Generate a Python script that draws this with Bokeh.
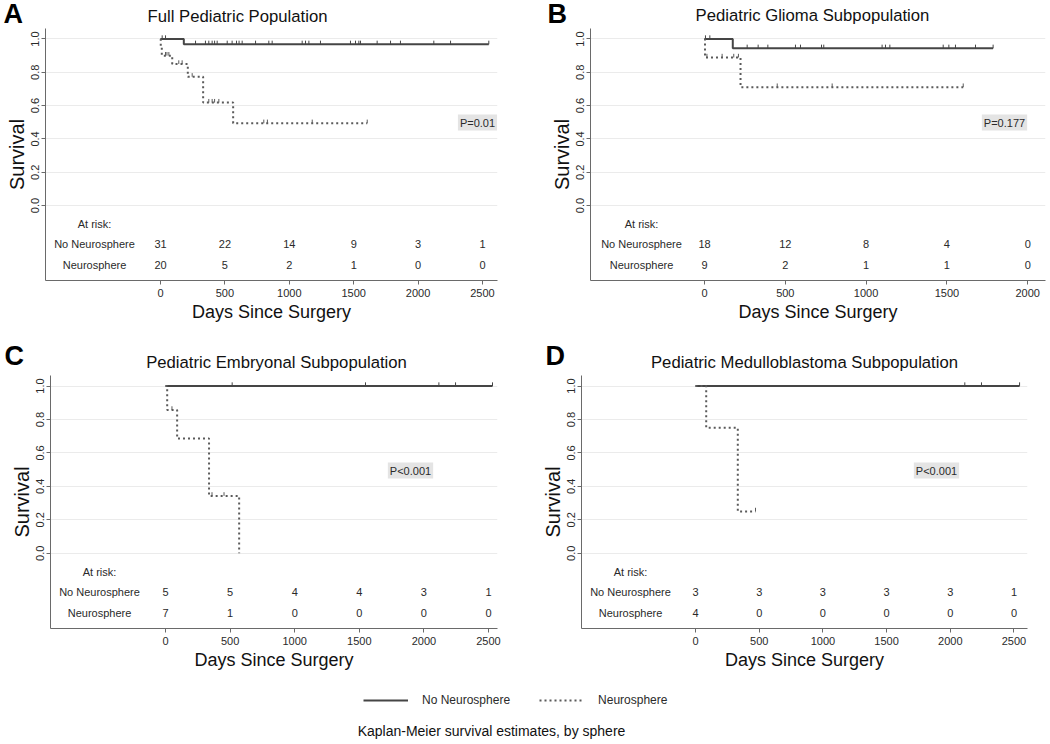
import numpy as np
from bokeh.plotting import figure
from bokeh.models import Range1d, Label, FixedTicker, PrintfTickFormatter, Legend, LegendItem
from bokeh.layouts import column, row
from bokeh.embed import file_html
from bokeh.resources import INLINE
from bokeh.core.properties import value

FONT = "Liberation Sans"

# ---------------- data ----------------
group_names = ["No Neurosphere", "Neurosphere"]

# Panel A: Full Pediatric Population
a_title = "Full Pediatric Population"
a_ticks = [0, 500, 1000, 1500, 2000, 2500]
a_no_t = [0, 181, 2549]
a_no_s = [1.0, 0.968, 0.968]
a_no_cens = [13, 39, 272, 349, 375, 401, 420, 440, 518, 556, 590, 610, 634, 738, 841, 867,
             1100, 1126, 1152, 1242, 1475, 1514, 1540, 1553, 1682, 1786, 1863, 2122, 2252, 2549]
a_ns_t = [0, 2, 10, 91, 212, 331, 564, 1605]
a_ns_s = [1.0, 0.95, 0.90, 0.85, 0.773, 0.618, 0.494, 0.494]
a_ns_cens = [39, 50, 65, 142, 168, 246, 375, 401, 420, 453, 802, 830, 1178, 1605]
a_risk_no = [31, 22, 14, 9, 3, 1]
a_risk_ns = [20, 5, 2, 1, 0, 0]
a_p = "P=0.01"

# Panel B: Pediatric Glioma Subpopulation
b_title = "Pediatric Glioma Subpopulation"
b_ticks = [0, 500, 1000, 1500, 2000]
b_no_t = [0, 175, 1786]
b_no_s = [1.0, 0.944, 0.944]
b_no_cens = [6, 33, 264, 332, 392, 563, 594, 724, 738, 1099, 1120, 1147, 1477,
             1512, 1553, 1677, 1786]
b_ns_t = [0, 3, 223, 1601]
b_ns_s = [1.0, 0.889, 0.711, 0.711]
b_ns_cens = [15, 109, 181, 210, 450, 790, 1601]
b_risk_no = [18, 12, 8, 4, 0]
b_risk_ns = [9, 2, 1, 1, 0]
b_p = "P=0.177"

# Panel C: Pediatric Embryonal Subpopulation
c_title = "Pediatric Embryonal Subpopulation"
c_ticks = [0, 500, 1000, 1500, 2000, 2500]
c_no_t = [0, 2531]
c_no_s = [1.0, 1.0]
c_no_cens = [516, 1548, 2116, 2245, 2531]
c_ns_t = [0, 13, 90, 337, 570]
c_ns_s = [1.0, 0.857, 0.686, 0.343, 0.0]
c_ns_cens = [50, 360, 453]
c_risk_no = [5, 5, 4, 4, 3, 1]
c_risk_ns = [7, 1, 0, 0, 0, 0]
c_p = "P<0.001"

# Panel D: Pediatric Medulloblastoma Subpopulation
d_title = "Pediatric Medulloblastoma Subpopulation"
d_ticks = [0, 500, 1000, 1500, 2000, 2500]
d_no_t = [0, 2544]
d_no_s = [1.0, 1.0]
d_no_cens = [2114, 2245, 2544]
d_ns_t = [0, 84, 332, 471]
d_ns_s = [1.0, 0.75, 0.25, 0.25]
d_ns_cens = [471]
d_risk_no = [3, 3, 3, 3, 3, 1]
d_risk_ns = [4, 0, 0, 0, 0, 0]
d_p = "P<0.001"

y_ticks = [0.0, 0.2, 0.4, 0.6, 0.8, 1.0]
caption = "Kaplan-Meier survival estimates, by sphere"

# ---------------- styling ----------------
SOLID_C = "#454545"
DOT_C = "#5a5a5a"
AX_C = "#6a6a6a"
TXT_C = "#2a2a2a"
Y0, Y1 = -0.45, 1.063


def surv_at(t, s, c):
    idx = np.searchsorted(np.asarray(t), np.asarray(c), side="right") - 1
    return np.asarray(s)[idx]


def blank_fig(width, height):
    """A figure whose data units are its own pixels (y measured downward)."""
    f = figure(width=width, height=height, x_range=Range1d(0, width),
               y_range=Range1d(height, 0), output_backend="svg", toolbar_location=None,
               x_axis_type=None, y_axis_type=None, min_border=0)
    f.outline_line_color = None
    f.grid.visible = False
    return f


def make_header(width, height, letter, lx, ly, title, tx, ty):
    h = blank_fig(width, height)
    h.add_layout(Label(x=lx, y=ly, text=letter, text_align="left", text_baseline="middle",
                       text_font=FONT, text_font_size="27px", text_font_style="bold",
                       text_color="#000000"))
    h.add_layout(Label(x=tx, y=ty, text=title, text_align="center", text_baseline="middle",
                       text_font=FONT, text_font_size="16.7px", text_color="#111111"))
    return h


def make_panel(ticks, no_t, no_s, no_c, ns_t, ns_s, ns_c, r_no, r_ns, ptxt,
               width, height, fig_x, fig_y, fl, fr, ft, fb, zero_px, dpp, p_pos, lab_px):
    xs = (fl - zero_px) * dpp
    xe = (fr - zero_px) * dpp
    p = figure(width=width, height=height, x_range=Range1d(xs, xe), y_range=Range1d(Y0, Y1),
               output_backend="svg", toolbar_location=None,
               min_border_left=fl - fig_x, min_border_right=fig_x + width - fr,
               min_border_top=ft - fig_y, min_border_bottom=fig_y + height - fb)
    p.outline_line_color = None
    p.xgrid.visible = False
    p.ygrid.grid_line_color = "#ebebeb"
    p.ygrid.grid_line_width = 1

    ppu = (fb - ft) / (Y1 - Y0)

    def px2x(xp):
        return (xp - zero_px) * dpp

    def px2y(yp):
        return Y1 - (yp - ft) / ppu

    p.xaxis.ticker = FixedTicker(ticks=ticks)
    p.yaxis.ticker = FixedTicker(ticks=y_ticks)
    p.yaxis.formatter = PrintfTickFormatter(format="%.1f")
    p.yaxis.major_label_orientation = "vertical"
    for ax in (p.xaxis[0], p.yaxis[0]):
        ax.axis_line_color = AX_C
        ax.major_tick_line_color = AX_C
        ax.minor_tick_line_color = None
        ax.major_tick_in = 0
        ax.major_tick_out = 4
        ax.major_label_text_font = FONT
        ax.major_label_text_font_size = "11px"
        ax.major_label_text_color = TXT_C
        ax.axis_label_text_font = FONT
        ax.axis_label_text_font_style = "normal"
        ax.axis_label_text_color = "#111111"
    p.xaxis.major_label_standoff = 4
    p.yaxis.major_label_standoff = 2
    p.xaxis.axis_label = "Days Since Surgery"
    p.xaxis.axis_label_text_font_size = "18px"
    p.xaxis.axis_label_standoff = 2
    p.yaxis.axis_label = "Survival"
    p.yaxis.axis_label_text_font_size = "20px"
    p.yaxis.axis_label_standoff = 1

    # survival curves
    p.step(no_t, no_s, mode="after", line_color=SOLID_C, line_width=2)
    p.step(ns_t, ns_s, mode="after", line_color=DOT_C, line_width=2, line_dash="2 3")
    # censoring marks
    cs = surv_at(no_t, no_s, no_c)
    p.segment(x0=no_c, y0=cs, x1=no_c, y1=cs + 0.022, line_color=SOLID_C, line_width=1)
    cs2 = surv_at(ns_t, ns_s, ns_c)
    p.segment(x0=ns_c, y0=cs2, x1=ns_c, y1=cs2 + 0.022, line_color=DOT_C, line_width=1)

    # at-risk table
    y_hdr, y_no, y_ns = -0.11, -0.23, -0.355
    txt_kw = dict(text_align="center", text_baseline="middle", text_font=value(FONT),
                  text_font_size="11px", text_color=TXT_C)
    p.text(x=ticks, y=[y_no] * len(ticks), text=[str(v) for v in r_no], **txt_kw)
    p.text(x=ticks, y=[y_ns] * len(ticks), text=[str(v) for v in r_ns], **txt_kw)
    lx = px2x(lab_px)
    p.text(x=[lx, lx, lx], y=[y_hdr, y_no, y_ns],
           text=["At risk:", group_names[0], group_names[1]], **txt_kw)

    # p-value box
    p.add_layout(Label(x=px2x(p_pos[0]), y=px2y(p_pos[1]), text=ptxt, text_align="center",
                       text_baseline="middle", text_font=FONT, text_font_size="11px",
                       text_color=TXT_C, background_fill_color="#e4e4e4", padding=2))
    return p


# headers (panel letters + titles)
hA = make_header(547, 28, "A", 3, 13, a_title, 237, 16)
hB = make_header(503, 28, "B", 0, 13, b_title, 265, 15)
hC = make_header(538, 49, "C", 4, 29, c_title, 276, 36)
hD = make_header(512, 49, "D", 7, 29, d_title, 266, 36)

pA = make_panel(a_ticks, a_no_t, a_no_s, a_no_cens, a_ns_t, a_ns_s, a_ns_cens,
                a_risk_no, a_risk_ns, a_p,
                width=547, height=298, fig_x=0, fig_y=28, fl=45, fr=497, ft=28, fb=280,
                zero_px=160, dpp=7.764, p_pos=(477, 122), lab_px=94)
pB = make_panel(b_ticks, b_no_t, b_no_s, b_no_cens, b_ns_t, b_ns_s, b_ns_cens,
                b_risk_no, b_risk_ns, b_p,
                width=503, height=298, fig_x=547, fig_y=28, fl=590, fr=1045, ft=28, fb=280,
                zero_px=704, dpp=6.188, p_pos=(1004, 122), lab_px=641)
pC = make_panel(c_ticks, c_no_t, c_no_s, c_no_cens, c_ns_t, c_ns_s, c_ns_cens,
                c_risk_no, c_risk_ns, c_p,
                width=538, height=299, fig_x=0, fig_y=375, fl=50, fr=497, ft=375, fb=628,
                zero_px=165, dpp=7.74, p_pos=(410, 470), lab_px=99)
pD = make_panel(d_ticks, d_no_t, d_no_s, d_no_cens, d_ns_t, d_ns_s, d_ns_cens,
                d_risk_no, d_risk_ns, d_p,
                width=512, height=299, fig_x=538, fig_y=375, fl=581, fr=1027, ft=375, fb=628,
                zero_px=695, dpp=7.85, p_pos=(936, 470), lab_px=630)

# bottom legend + caption
pL = blank_fig(1050, 70)
r1 = pL.line(x=[np.nan], y=[np.nan], line_color=SOLID_C, line_width=2)
r2 = pL.line(x=[np.nan], y=[np.nan], line_color=DOT_C, line_width=2, line_dash="2 3")
leg = Legend(items=[LegendItem(label=group_names[0], renderers=[r1]),
                    LegendItem(label=group_names[1], renderers=[r2])],
             orientation="horizontal", location=(363, 34), glyph_width=45, glyph_height=20,
             label_standoff=14, spacing=29, padding=0, margin=0, border_line_color=None,
             background_fill_alpha=0, label_text_font=FONT, label_text_font_size="12px",
             label_text_color=TXT_C)
pL.add_layout(leg)
pL.add_layout(Label(x=491, y=56, text=caption, text_align="center", text_baseline="middle",
                    text_font=FONT, text_font_size="14px", text_color="#111111"))

layout = column(row(hA, hB), row(pA, pB), row(hC, hD), row(pC, pD), pL)
open("out.html", "w").write(file_html(layout, INLINE))
